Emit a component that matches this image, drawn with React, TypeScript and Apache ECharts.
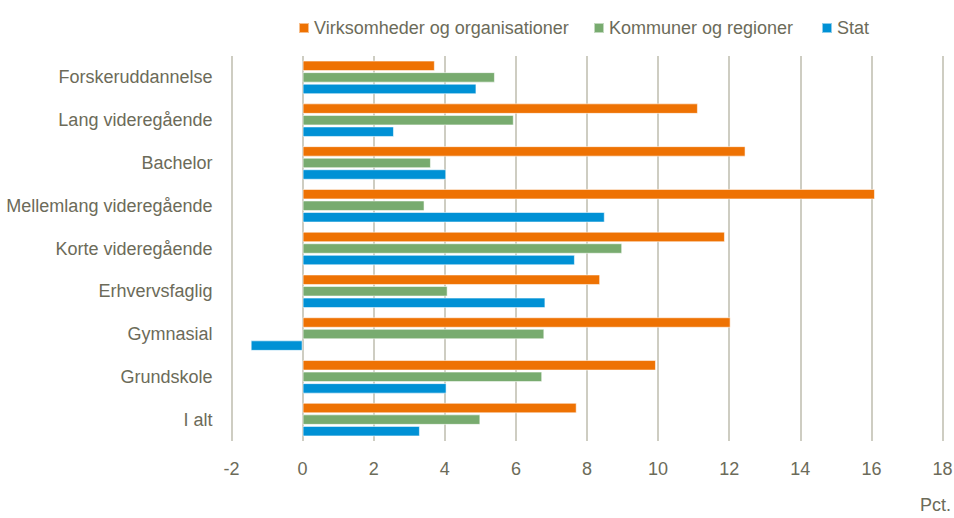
import React, { useEffect, useRef } from "react";
import * as echarts from "echarts";

const categories = [
  "Forskeruddannelse",
  "Lang videregående",
  "Bachelor",
  "Mellemlang videregående",
  "Korte videregående",
  "Erhvervsfaglig",
  "Gymnasial",
  "Grundskole",
  "I alt",
];
const seriesNames = ["Virksomheder og organisationer", "Kommuner og regioner", "Stat"];
const virksomheder = [3.72, 11.12, 12.46, 16.1, 11.88, 8.37, 12.04, 9.94, 7.71];
const kommuner = [5.41, 5.94, 3.61, 3.43, 8.99, 4.08, 6.8, 6.74, 5.0];
const stat = [4.89, 2.57, 4.04, 8.5, 7.66, 6.83, -1.46, 4.05, 3.3];
const colors = ["#EE7203", "#78AB6F", "#0091D5"];

const FONT = '"Liberation Sans", Arial, sans-serif';
const TEXT = "#6c6b59";
const FS = 18;

export default function App() {
  const ref = useRef<HTMLDivElement>(null);
  useEffect(() => {
    if (!ref.current) return;
    const chart = echarts.init(ref.current, undefined, { renderer: "svg" });
    const values = [virksomheder, kommuner, stat];
    const legendLefts = [293, 588, 816];
    chart.setOption({
      animation: false,
      textStyle: { fontFamily: FONT },
      legend: seriesNames.map((n, i) => ({
        data: [n],
        left: legendLefts[i],
        top: 14,
        icon: "rect",
        itemWidth: 10,
        itemHeight: 10,
        itemGap: 4,
        textStyle: { color: TEXT, fontSize: FS, fontFamily: FONT },
      })),
      grid: {
        left: 231.5,
        right: 11.5,
        top: 56,
        bottom: 77,
        containLabel: false,
        outerBoundsMode: "none",
      },
      xAxis: {
        type: "value",
        min: -2,
        max: 18,
        interval: 2,
        axisLine: { show: false },
        axisTick: { show: false },
        axisLabel: { color: TEXT, fontSize: FS, fontFamily: FONT, margin: 19 },
        splitLine: { show: true, lineStyle: { color: "#bebcae", width: 1.5 } },
      },
      yAxis: {
        type: "category",
        data: categories,
        inverse: true,
        axisLine: { show: false },
        axisTick: { show: false },
        axisLabel: { color: TEXT, fontSize: FS, fontFamily: FONT, margin: 19 },
      },
      graphic: [
        {
          type: "text",
          left: 920,
          top: 496,
          style: { text: "Pct.", fill: TEXT, fontSize: FS, fontFamily: FONT },
        },
      ],
      series: seriesNames.map((n, i) => ({
        name: n,
        type: "bar",
        data: values[i],
        barWidth: 10.5,
        barGap: "10%",
        itemStyle: {
          color: colors[i],
          borderColor: "rgba(255,255,255,0.55)",
          borderWidth: 1,
        },
      })),
    });
    return () => chart.dispose();
  }, []);
  return <div ref={ref} style={{ width: 954, height: 518, position: "absolute", left: 0, top: 0 }} />;
}
